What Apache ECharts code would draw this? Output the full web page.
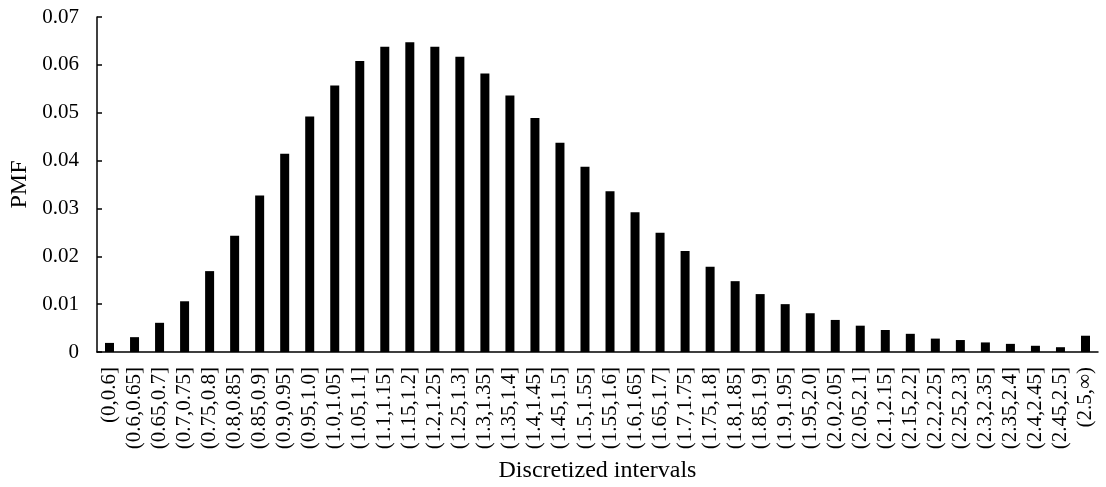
<!DOCTYPE html>
<html>
<head>
<meta charset="utf-8">
<script src="https://cdn.jsdelivr.net/npm/echarts@6/dist/echarts.min.js"></script>
<style>
  html, body { margin: 0; padding: 0; background: #fff; }
  #chart { width: 1106px; height: 487px; }
</style>
</head>
<body>
<div id="chart"></div>
<script>
// Interval labels for the discretized variable
const intervals = [
  '(0,0.6]', '(0.6,0.65]', '(0.65,0.7]', '(0.7,0.75]', '(0.75,0.8]', '(0.8,0.85]',
  '(0.85,0.9]', '(0.9,0.95]', '(0.95,1.0]', '(1.0,1.05]', '(1.05,1.1]', '(1.1,1.15]',
  '(1.15,1.2]', '(1.2,1.25]', '(1.25,1.3]', '(1.3,1.35]', '(1.35,1.4]', '(1.4,1.45]',
  '(1.45,1.5]', '(1.5,1.55]', '(1.55,1.6]', '(1.6,1.65]', '(1.65,1.7]', '(1.7,1.75]',
  '(1.75,1.8]', '(1.8,1.85]', '(1.85,1.9]', '(1.9,1.95]', '(1.95,2.0]', '(2.0,2.05]',
  '(2.05,2.1]', '(2.1,2.15]', '(2.15,2.2]', '(2.2,2.25]', '(2.25,2.3]', '(2.3,2.35]',
  '(2.35,2.4]', '(2.4,2.45]', '(2.45,2.5]', '(2.5,\u221E)'
];

// Probability mass in each interval
const pmf = [
  0.0019, 0.0031, 0.0061, 0.0106, 0.0169, 0.0243,
  0.0327, 0.0414, 0.0492, 0.0557, 0.0608, 0.0638,
  0.0647, 0.0638, 0.0617, 0.0582, 0.0536, 0.0489,
  0.0437, 0.0387, 0.0336, 0.0292, 0.0249, 0.0211,
  0.0178, 0.0148, 0.0121, 0.0100, 0.0081, 0.0067,
  0.0055, 0.0046, 0.0038, 0.0028, 0.0025, 0.0020,
  0.0017, 0.0013, 0.0010, 0.0034
];

const yTicks = [0, 0.01, 0.02, 0.03, 0.04, 0.05, 0.06, 0.07];

const font = '"Liberation Serif", "Times New Roman", serif';
const chart = echarts.init(document.getElementById('chart'), null, { renderer: 'canvas' });

chart.setOption({
  animation: false,
  backgroundColor: '#ffffff',
  textStyle: { fontFamily: font, color: '#000' },
  grid: {
    left: 97, right: 8, top: 17, bottom: 135,
    containLabel: false,
    outerBoundsMode: 'none'
  },
  xAxis: {
    type: 'category',
    data: intervals,
    name: 'Discretized intervals',
    nameLocation: 'middle',
    nameGap: 107,
    nameTextStyle: { fontFamily: font, fontSize: 24, color: '#000' },
    axisLine: { lineStyle: { color: '#000', width: 1.5 } },
    axisTick: { show: false },
    axisLabel: {
      interval: 0,
      rotate: 90,
      margin: 15,
      fontFamily: font,
      fontSize: 21,
      color: '#000'
    }
  },
  yAxis: {
    type: 'value',
    min: yTicks[0],
    max: yTicks[yTicks.length - 1],
    interval: 0.01,
    name: 'PMF',
    nameLocation: 'middle',
    nameGap: 65,
    nameTextStyle: { fontFamily: font, fontSize: 24, color: '#000' },
    splitLine: { show: false },
    axisLine: { show: true, lineStyle: { color: '#000', width: 1.5 } },
    axisTick: { show: true, inside: true, length: 5, lineStyle: { color: '#000', width: 1.5 } },
    axisLabel: {
      margin: 18,
      fontFamily: font,
      fontSize: 21,
      color: '#000',
      formatter: v => (v === 0 ? '0' : v.toFixed(2))
    }
  },
  series: [{
    type: 'bar',
    data: pmf,
    barWidth: 9,
    itemStyle: { color: '#000' }
  }]
});
</script>
</body>
</html>
